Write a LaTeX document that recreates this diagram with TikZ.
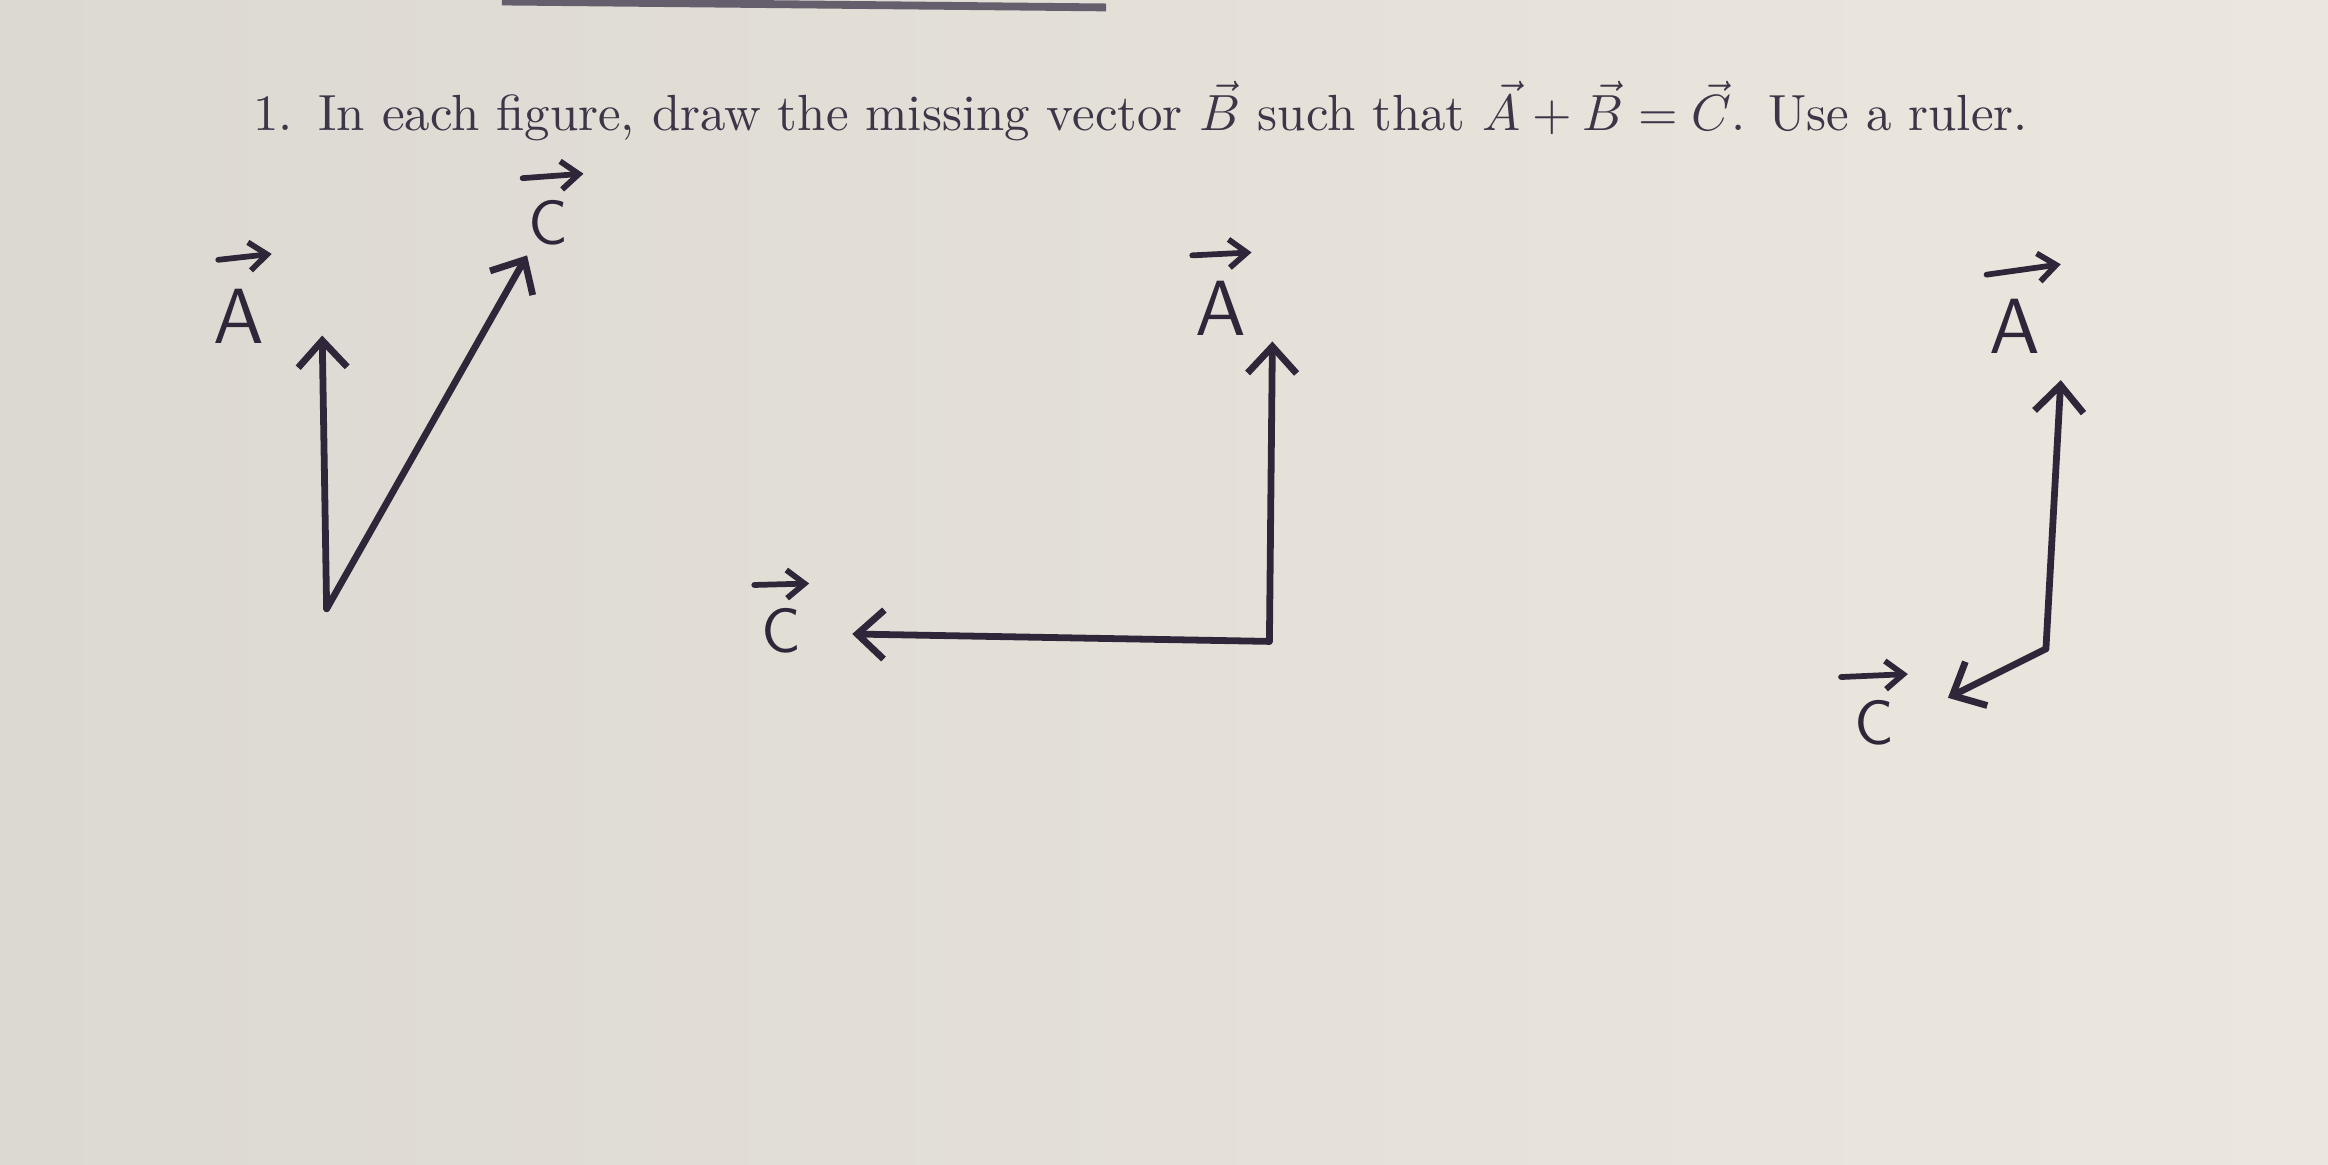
\documentclass[tikz,border=0pt]{standalone}
\usepackage{amsmath, amssymb}
\usepackage{graphicx}
\usetikzlibrary{arrows.meta}
\definecolor{ink}{RGB}{48,38,58}
\definecolor{print}{RGB}{62,54,72}
\definecolor{paperL}{RGB}{220,217,210}
\definecolor{paperM}{RGB}{240,238,233}
\definecolor{paperR}{RGB}{236,231,222}

\begin{document}
\begin{tikzpicture}[
		vec/.style={ink, line width=1.3pt, line cap=round, line join=round, -{Straight Barb[length=1.8mm,width=3.3mm]}},
		hand/.style={ink, font=\sffamily\fontsize{15}{15}\selectfont, inner sep=0pt},
		overarrow/.style={ink, line width=1.1pt, line cap=round, -{Straight Barb[length=1.2mm,width=1.9mm]}}
	]
		\useasboundingbox (0,0) rectangle (15.68,7.84);
		\shade[left color=paperL, middle color=paperM, right color=paperR] (0,0) rectangle (15.68,7.84);
		\draw[print!80, line width=1.5pt] (3.38,7.83) -- (7.45,7.79);
		\node[anchor=base west, inner sep=0pt, text=print] (task) at (1.70,6.96)
			{\resizebox{11.95cm}{!}{1.\enspace In each figure, draw the missing vector $\vec{B}$ such that $\vec{A}+\vec{B}=\vec{C}$. Use a ruler.}};
		% first figure
		\coordinate (o1) at (2.20,3.74);
		\coordinate (a1) at (2.17,5.58);
		\coordinate (c1) at (3.55,6.12);
		\draw[vec] (o1) -- (a1);
		\draw[vec] (o1) -- (c1);
		\node[hand] (lA1) at (1.61,5.71) {A};
		\node[hand, font=\sffamily\fontsize{12}{12}\selectfont] (lC1) at (3.69,6.34) {C};
		\draw[overarrow] ([shift={(-0.14,0.38)}]lA1.center) -- ([shift={(0.22,0.42)}]lA1.center);
		\draw[overarrow] ([shift={(-0.17,0.30)}]lC1.center) -- ([shift={(0.24,0.33)}]lC1.center);
		% second figure
		\coordinate (o2) at (8.55,3.52);
		\coordinate (a2) at (8.57,5.54);
		\coordinate (c2) at (5.74,3.57);
		\draw[vec] (o2) -- (a2);
		\draw[vec] (o2) -- (c2);
		\node[hand] (lA2) at (8.22,5.76) {A};
		\node[hand, font=\sffamily\fontsize{12}{12}\selectfont] (lC2) at (5.26,3.59) {C};
		\draw[overarrow] ([shift={(-0.19,0.36)}]lA2.center) -- ([shift={(0.21,0.38)}]lA2.center);
		\draw[overarrow] ([shift={(-0.18,0.31)}]lC2.center) -- ([shift={(0.19,0.32)}]lC2.center);
		% third figure
		\coordinate (o3) at (13.78,3.47);
		\coordinate (a3) at (13.88,5.28);
		\coordinate (c3) at (13.12,3.14);
		\draw[vec] (o3) -- (a3);
		\draw[vec] (o3) -- (c3);
		\node[hand] (lA3) at (13.57,5.64) {A};
		\node[hand, font=\sffamily\fontsize{12}{12}\selectfont] (lC3) at (12.62,2.97) {C};
		\draw[overarrow] ([shift={(-0.19,0.35)}]lA3.center) -- ([shift={(0.31,0.42)}]lA3.center);
		\draw[overarrow] ([shift={(-0.22,0.31)}]lC3.center) -- ([shift={(0.23,0.33)}]lC3.center);
	\end{tikzpicture}
\end{document}
